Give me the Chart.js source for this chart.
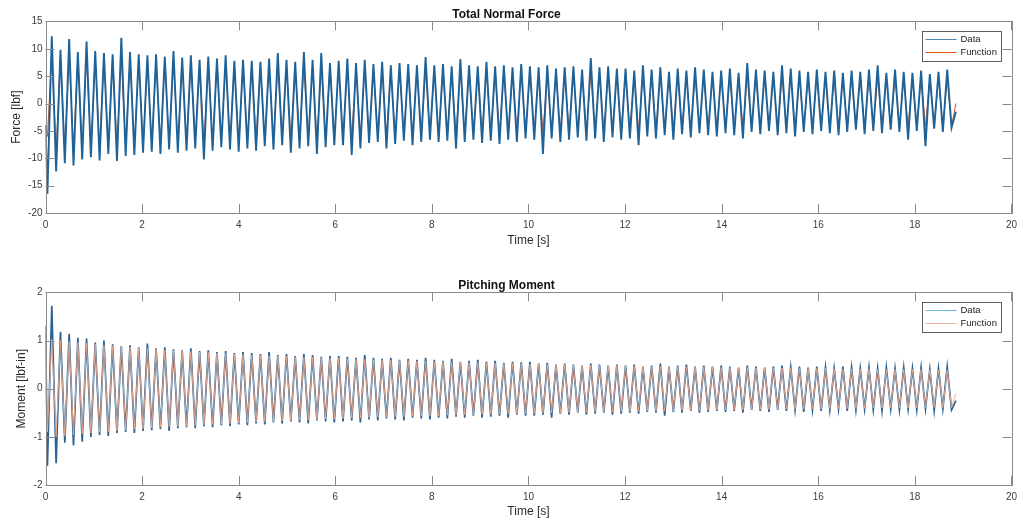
<!DOCTYPE html>
<html>
<head>
<meta charset="utf-8">
<script src="https://cdn.jsdelivr.net/npm/chart.js@4.4.1/dist/chart.umd.min.js"></script>
<style>
  html, body { margin: 0; padding: 0; background: #fff; }
  #wrap { position: relative; width: 1023px; height: 525px; }
  canvas { position: absolute; left: 0; }
  #force { top: 0; }
  #moment { top: 271px; }
</style>
</head>
<body>
<div id="wrap">
  <canvas id="force" width="1023" height="262"></canvas>
  <canvas id="moment" width="1023" height="254"></canvas>
</div>
<script>
// sample timing: one peak and one trough per oscillation cycle
const period = 0.18;       // s
const firstPeak = 0.13;    // s
const leadTimes = [0, 0.04];
const endTime = 18.85;

const xTicks = [0, 2, 4, 6, 8, 10, 12, 14, 16, 18, 20];
const forceTicks = [-20, -15, -10, -5, 0, 5, 10, 15];
const momentTicks = [-2, -1, 0, 1, 2];

// Total normal force [lbf]
const forceLead = [-4, -16.5];
const forcePeaks = [
  12.3, 9.8, 11.8, 9.4, 11.3, 9.6, 9.2, 9.0, 12.0, 9.4, 9.0,
  8.8, 9.0, 8.6, 9.6, 8.4, 8.8, 8.0, 8.6, 8.2, 8.8, 7.8,
  8.0, 7.8, 7.6, 8.2, 9.2, 8.0, 7.6, 9.4, 8.0, 9.2, 7.4,
  7.8, 8.2, 7.4, 8.0, 7.2, 7.6, 7.0, 7.4, 7.2, 7.0, 8.5,
  7.0, 7.2, 6.8, 8.1, 7.0, 6.8, 7.6, 6.8, 7.0, 6.6, 7.2,
  6.8, 6.6, 7.0, 6.4, 6.6, 6.8, 6.2, 8.3, 6.6, 6.8, 6.4,
  6.4, 6.0, 7.0, 6.2, 6.6, 5.8, 6.4, 6.0, 6.6, 6.2, 5.8,
  6.0, 6.4, 5.6, 7.4, 6.2, 6.0, 5.8, 7.0, 6.4, 6.0, 5.8,
  6.2, 5.8, 6.0, 5.6, 6.0, 5.8, 6.2, 7.0, 5.6, 6.2, 5.8,
  5.6, 6.0, 5.4, 5.8, 6.2
];
const forceTroughs = [
  -12.4, -10.9, -11.3, -10.2, -9.8, -10.4, -9.2, -10.5, -9.6, -9.4, -9.0,
  -8.8, -9.2, -8.4, -9.0, -8.6, -8.2, -10.2, -8.6, -8.0, -8.4, -8.8,
  -8.2, -8.6, -7.8, -8.4, -7.6, -9.0, -8.2, -7.8, -9.2, -8.0, -7.6,
  -7.6, -9.4, -8.2, -7.2, -7.0, -8.2, -7.4, -6.8, -7.6, -7.0, -6.6,
  -7.0, -6.8, -8.2, -7.0, -6.6, -7.2, -6.8, -7.4, -6.6, -7.0, -6.4,
  -6.6, -9.2, -6.4, -7.0, -6.6, -6.2, -6.8, -6.4, -7.0, -6.2, -6.6,
  -6.4, -7.6, -6.0, -6.4, -5.8, -6.6, -5.6, -6.2, -5.4, -5.8, -6.0,
  -5.4, -5.8, -6.4, -5.2, -5.6, -5.0, -5.8, -5.4, -6.0, -5.2, -5.6,
  -5.0, -5.4, -5.8, -5.2, -4.8, -5.6, -5.0, -5.4, -4.8, -5.2, -6.6,
  -5.0, -7.8, -4.6, -5.2, -4.4
];
const forceEnd = -1.5;

const forceFitLead = [-4, -6];
const forceFitPeaks = [
  9.0, 8.9, 8.8, 8.7, 8.6, 8.5, 8.4, 8.3, 8.2, 8.1, 8.0,
  7.9, 7.8, 7.8, 7.7, 7.6, 7.5, 7.5, 7.4, 7.3, 7.3, 7.2,
  7.1, 7.1, 7.0, 6.9, 6.9, 6.8, 6.8, 6.7, 6.7, 6.6, 6.6,
  6.5, 6.5, 6.4, 6.4, 6.3, 6.3, 6.2, 6.2, 6.2, 6.1, 6.1,
  6.0, 6.0, 5.9, 5.9, 5.9, 5.8, 5.8, 5.8, 5.7, 5.7, 5.7,
  5.6, 5.6, 5.6, 5.5, 5.5, 5.5, 5.4, 5.4, 5.4, 5.4, 5.3,
  5.3, 5.3, 5.3, 5.2, 5.2, 5.2, 5.2, 5.1, 5.1, 5.1, 5.1,
  5.0, 5.0, 5.0, 5.0, 5.0, 4.9, 4.9, 4.9, 4.9, 4.9, 4.8,
  4.8, 4.8, 4.8, 4.8, 4.8, 4.7, 4.7, 4.7, 4.7, 4.7, 4.7,
  4.6, 4.6, 4.6, 4.6, 4.6
];
const forceFitTroughs = [
  -8.6, -8.5, -8.4, -8.3, -8.2, -8.1, -8.0, -7.9, -7.8, -7.7, -7.6,
  -7.5, -7.4, -7.4, -7.3, -7.2, -7.1, -7.1, -7.0, -6.9, -6.9, -6.8,
  -6.7, -6.7, -6.6, -6.5, -6.5, -6.4, -6.4, -6.3, -6.3, -6.2, -6.2,
  -6.1, -6.1, -6.0, -6.0, -5.9, -5.9, -5.8, -5.8, -5.8, -5.7, -5.7,
  -5.6, -5.6, -5.5, -5.5, -5.5, -5.4, -5.4, -5.4, -5.3, -5.3, -5.3,
  -5.2, -5.2, -5.2, -5.1, -5.1, -5.1, -5.0, -5.0, -5.0, -5.0, -4.9,
  -4.9, -4.9, -4.9, -4.8, -4.8, -4.8, -4.8, -4.7, -4.7, -4.7, -4.7,
  -4.6, -4.6, -4.6, -4.6, -4.6, -4.5, -4.5, -4.5, -4.5, -4.5, -4.4,
  -4.4, -4.4, -4.4, -4.4, -4.4, -4.3, -4.3, -4.3, -4.3, -4.3, -4.3,
  -4.2, -4.2, -4.2, -4.2, -4.2
];
const forceFitEnd = 0;

// Pitching moment [lbf-in]
const momentLead = [1.3, -1.6];
const momentPeaks = [
  1.72, 1.18, 1.14, 1.06, 1.04, 0.96, 1.0, 0.92, 0.88, 0.9, 0.86,
  0.94, 0.84, 0.86, 0.82, 0.8, 0.84, 0.78, 0.8, 0.76, 0.78, 0.74,
  0.76, 0.74, 0.72, 0.76, 0.7, 0.72, 0.68, 0.72, 0.7, 0.66, 0.68,
  0.68, 0.66, 0.64, 0.7, 0.64, 0.62, 0.64, 0.6, 0.62, 0.6, 0.64,
  0.6, 0.58, 0.62, 0.56, 0.58, 0.6, 0.56, 0.58, 0.54, 0.56, 0.55,
  0.56, 0.52, 0.54, 0.5, 0.52, 0.5, 0.48, 0.52, 0.5, 0.48, 0.5,
  0.48, 0.5, 0.46, 0.48, 0.52, 0.46, 0.48, 0.5, 0.46, 0.48, 0.46,
  0.48, 0.46, 0.44, 0.48, 0.46, 0.44, 0.46, 0.48, 0.44, 0.46, 0.44,
  0.46, 0.44, 0.42, 0.46, 0.44, 0.42, 0.44, 0.42, 0.44, 0.42, 0.44,
  0.42, 0.44, 0.4, 0.42, 0.46
];
const momentTroughs = [
  -1.55, -1.12, -1.18, -1.1, -1.0, -0.96, -0.98, -0.92, -0.9, -0.92, -0.88,
  -0.86, -0.84, -0.88, -0.82, -0.8, -0.82, -0.78, -0.8, -0.76, -0.78, -0.74,
  -0.76, -0.72, -0.74, -0.7, -0.72, -0.68, -0.7, -0.72, -0.66, -0.68, -0.7,
  -0.68, -0.66, -0.7, -0.64, -0.66, -0.62, -0.64, -0.66, -0.6, -0.62, -0.64,
  -0.6, -0.62, -0.58, -0.6, -0.56, -0.6, -0.58, -0.56, -0.6, -0.54, -0.56,
  -0.56, -0.54, -0.6, -0.52, -0.54, -0.5, -0.54, -0.52, -0.5, -0.54, -0.52,
  -0.5, -0.52, -0.48, -0.5, -0.56, -0.48, -0.5, -0.46, -0.5, -0.48, -0.46,
  -0.48, -0.46, -0.5, -0.44, -0.46, -0.48, -0.44, -0.46, -0.44, -0.48, -0.44,
  -0.46, -0.44, -0.42, -0.46, -0.44, -0.42, -0.44, -0.46, -0.42, -0.44, -0.42,
  -0.44, -0.42, -0.46, -0.42, -0.44
];
const momentEnd = -0.25;

const momentFitLead = [0, -0.9];
const momentFitPeaks = [
  1.02, 1.0, 0.98, 0.96, 0.94, 0.92, 0.9, 0.89, 0.87, 0.86, 0.84,
  0.83, 0.82, 0.8, 0.79, 0.78, 0.77, 0.76, 0.75, 0.74, 0.73, 0.72,
  0.71, 0.7, 0.69, 0.68, 0.68, 0.67, 0.66, 0.65, 0.65, 0.64, 0.63,
  0.63, 0.62, 0.61, 0.61, 0.6, 0.59, 0.59, 0.58, 0.58, 0.57, 0.57,
  0.56, 0.56, 0.55, 0.55, 0.54, 0.54, 0.53, 0.53, 0.52, 0.52, 0.52,
  0.51, 0.51, 0.5, 0.5, 0.5, 0.49, 0.49, 0.49, 0.48, 0.48, 0.48,
  0.47, 0.47, 0.47, 0.46, 0.46, 0.46, 0.46, 0.45, 0.45, 0.45, 0.45,
  0.44, 0.44, 0.44, 0.44, 0.43, 0.43, 0.43, 0.43, 0.42, 0.42, 0.42,
  0.42, 0.42, 0.41, 0.41, 0.41, 0.41, 0.41, 0.4, 0.4, 0.4, 0.4,
  0.4, 0.4, 0.39, 0.39, 0.39
];
const momentFitTroughs = [
  -1.0, -0.98, -0.96, -0.94, -0.92, -0.9, -0.89, -0.87, -0.86, -0.84, -0.83,
  -0.82, -0.8, -0.79, -0.78, -0.77, -0.76, -0.75, -0.74, -0.73, -0.72, -0.71,
  -0.7, -0.69, -0.68, -0.68, -0.67, -0.66, -0.65, -0.65, -0.64, -0.63, -0.63,
  -0.62, -0.61, -0.61, -0.6, -0.59, -0.59, -0.58, -0.58, -0.57, -0.57, -0.56,
  -0.56, -0.55, -0.55, -0.54, -0.54, -0.53, -0.53, -0.52, -0.52, -0.52, -0.51,
  -0.51, -0.5, -0.5, -0.5, -0.49, -0.49, -0.49, -0.48, -0.48, -0.48, -0.47,
  -0.47, -0.47, -0.46, -0.46, -0.46, -0.46, -0.45, -0.45, -0.45, -0.45, -0.44,
  -0.44, -0.44, -0.44, -0.43, -0.43, -0.43, -0.43, -0.42, -0.42, -0.42, -0.42,
  -0.42, -0.41, -0.41, -0.41, -0.41, -0.41, -0.4, -0.4, -0.4, -0.4, -0.4,
  -0.4, -0.39, -0.39, -0.39, -0.39
];
const momentFitEnd = -0.1;

// interleave peaks and troughs into {x, y} points
function buildSeries(lead, peaks, troughs, end) {
  const pts = lead.map((v, i) => ({ x: leadTimes[i], y: v }));
  peaks.forEach((p, k) => {
    const t = firstPeak + k * period;
    pts.push({ x: t, y: p });
    if (k < troughs.length) pts.push({ x: t + period / 2, y: troughs[k] });
  });
  pts.push({ x: endTime, y: end });
  return pts;
}

const FONT = "'Liberation Sans', Arial, Helvetica, sans-serif";

// axes box with inward tick marks on all four sides
const boxPlugin = {
  id: 'box',
  afterDatasetsDraw(chart) {
    const { ctx, chartArea: a, scales } = chart;
    const len = 9;
    ctx.save();
    ctx.strokeStyle = '#8a8a8a';
    ctx.lineWidth = 1;
    ctx.strokeRect(Math.round(a.left) + 0.5, Math.round(a.top) + 0.5,
      Math.round(a.right - a.left), Math.round(a.bottom - a.top));
    ctx.beginPath();
    scales.x.ticks.forEach(t => {
      const px = Math.round(scales.x.getPixelForValue(t.value)) + 0.5;
      ctx.moveTo(px, a.bottom); ctx.lineTo(px, a.bottom - len);
      ctx.moveTo(px, a.top); ctx.lineTo(px, a.top + len);
    });
    scales.y.ticks.forEach(t => {
      const py = Math.round(scales.y.getPixelForValue(t.value)) + 0.5;
      ctx.moveTo(a.left, py); ctx.lineTo(a.left + len, py);
      ctx.moveTo(a.right, py); ctx.lineTo(a.right - len, py);
    });
    ctx.stroke();
    ctx.restore();
  }
};

// boxed legend in the upper right corner of the plot
const insetLegend = {
  id: 'insetLegend',
  afterDraw(chart) {
    const { ctx, chartArea: a } = chart;
    const sets = chart.data.datasets;
    const w = 79, h = 30;
    const x0 = Math.round(a.right - 89) + 0.5, y0 = Math.round(a.top + 10) + 0.5;
    ctx.save();
    ctx.fillStyle = '#fff';
    ctx.fillRect(x0, y0, w, h);
    ctx.strokeStyle = '#3a3a3a';
    ctx.lineWidth = 0.8;
    ctx.strokeRect(x0, y0, w, h);
    ctx.font = '9.5px ' + FONT;
    ctx.textBaseline = 'middle';
    sets.forEach((ds, i) => {
      const y = y0 + 8 + i * 13;
      ctx.strokeStyle = ds.legendColor || ds.borderColor;
      ctx.lineWidth = 1;
      ctx.beginPath();
      ctx.moveTo(x0 + 3, y); ctx.lineTo(x0 + 34, y);
      ctx.stroke();
      ctx.fillStyle = '#222';
      ctx.fillText(ds.label, x0 + 38, y);
    });
    ctx.restore();
  }
};

function makeChart(id, opts) {
  return new Chart(document.getElementById(id), {
    type: 'line',
    data: { datasets: opts.datasets },
    options: {
      responsive: false,
      animation: false,
      parsing: false,
      layout: { padding: { left: 0, right: 10, top: 0, bottom: 0 } },
      elements: { point: { radius: 0 }, line: { tension: 0 } },
      plugins: {
        legend: { display: false },
        tooltip: { enabled: false },
        title: {
          display: true, text: opts.title, color: '#111',
          font: { family: FONT, size: 12, weight: 'bold' },
          padding: { top: 7, bottom: 0 }
        }
      },
      scales: {
        x: {
          type: 'linear', min: 0, max: 20,
          afterBuildTicks: s => { s.ticks = xTicks.map(v => ({ value: v })); },
          afterFit: s => { s.height = opts.xHeight; },
          grid: { display: false, drawTicks: false }, border: { display: false },
          ticks: { padding: 6, color: '#3c3c3c', font: { family: FONT, size: 10 } },
          title: {
            display: true, text: 'Time [s]', color: '#2a2a2a',
            font: { family: FONT, size: 12 }, padding: { top: 0, bottom: opts.xTitlePad }
          }
        },
        y: {
          min: opts.yTicks[0], max: opts.yTicks[opts.yTicks.length - 1],
          afterBuildTicks: s => { s.ticks = opts.yTicks.map(v => ({ value: v })); },
          afterFit: s => { s.width = 45.5; },
          grid: { display: false, drawTicks: false }, border: { display: false },
          ticks: { padding: 3, color: '#3c3c3c', font: { family: FONT, size: 10 } },
          title: {
            display: true, text: opts.yTitle, color: '#2a2a2a',
            font: { family: FONT, size: 12 }, padding: { top: opts.yTitlePad, bottom: 0 }
          }
        }
      }
    },
    plugins: [boxPlugin, insetLegend]
  });
}

makeChart('force', {
  title: 'Total Normal Force',
  yTitle: 'Force [lbf]',
  yTicks: forceTicks,
  xHeight: 49, xTitlePad: 13.8, yTitlePad: 9.5,
  datasets: [
    {
      label: 'Data', order: 0,
      data: buildSeries(forceLead, forcePeaks, forceTroughs, forceEnd),
      borderColor: '#1d6299', legendColor: '#4a86ad', borderWidth: 1.9
    },
    {
      label: 'Function', order: 1,
      data: buildSeries(forceFitLead, forceFitPeaks, forceFitTroughs, forceFitEnd),
      borderColor: '#d95319', borderWidth: 1
    }
  ]
});

makeChart('moment', {
  title: 'Pitching Moment',
  yTitle: 'Moment [lbf-in]',
  yTicks: momentTicks,
  xHeight: 40, xTitlePad: 5.8, yTitlePad: 14.5,
  datasets: [
    {
      label: 'Data', order: 1,
      data: buildSeries(momentLead, momentPeaks, momentTroughs, momentEnd),
      borderColor: '#2a6293', legendColor: '#6bb8e4', borderWidth: 1.7
    },
    {
      label: 'Function', order: 0,
      data: buildSeries(momentFitLead, momentFitPeaks, momentFitTroughs, momentFitEnd),
      borderColor: 'rgba(240,170,140,0.9)', legendColor: '#f2b49a', borderWidth: 1
    }
  ]
});
</script>
</body>
</html>
